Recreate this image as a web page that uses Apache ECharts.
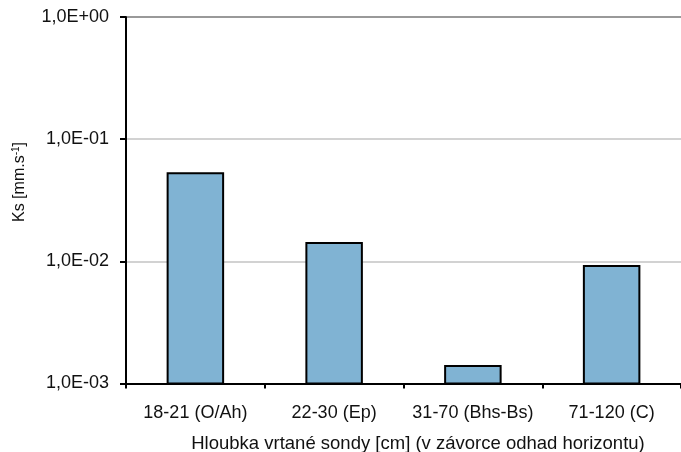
<!DOCTYPE html>
<html>
<head>
<meta charset="utf-8">
<script src="https://cdn.jsdelivr.net/npm/echarts@6/dist/echarts.min.js"></script>
<style>
html,body{margin:0;padding:0;background:#fff;}
#chart{width:681px;height:452px;}
</style>
</head>
<body>
<div id="chart"></div>
<script>
var categories = ['18-21 (O/Ah)', '22-30 (Ep)', '31-70 (Bhs-Bs)', '71-120 (C)'];
var ksValues = [0.0526, 0.0141, 0.00139, 0.00917];
var yMin = 0.001;
var yMax = 1;
var yName = 'Ks [mm.s';
var xName = 'Hloubka vrtané sondy [cm] (v závorce odhad horizontu)';

function fmt(v) {
  var e = Math.round(Math.log10(v));
  var s = e < 0 ? '-' : '+';
  var a = Math.abs(e);
  return '1,0E' + s + (a < 10 ? '0' + a : a);
}

var chart = echarts.init(document.getElementById('chart'));
var font = 'Liberation Sans, Arial, sans-serif';
chart.setOption({
  animation: false,
  backgroundColor: '#fff',
  grid: { left: 126, top: 17, width: 560, height: 366.5, containLabel: false },
  xAxis: {
    type: 'category',
    data: categories,
    axisLine: { lineStyle: { color: '#000', width: 2 } },
    axisTick: { show: true, length: 5, lineStyle: { color: '#000', width: 2 } },
    axisLabel: { interval: 0, color: '#111', fontFamily: font, fontSize: 18, margin: 21 },
    splitLine: { show: false }
  },
  yAxis: {
    type: 'log',
    logBase: 10,
    min: yMin,
    max: yMax,
    axisLine: { show: true, lineStyle: { color: '#000', width: 2 } },
    axisTick: { show: true, length: 6, lineStyle: { color: '#000', width: 2 } },
    axisLabel: { color: '#111', fontFamily: font, fontSize: 18, margin: 17, formatter: fmt },
    splitLine: { show: true, lineStyle: { color: '#d2d2d2', width: 2 } }
  },
  graphic: [
    { type: 'line', shape: { x1: 127, y1: 17, x2: 681, y2: 17 }, style: { stroke: '#999', lineWidth: 2 }, z: 5 },
    { type: 'text', x: 418, y: 444,
      style: { text: xName, font: '18.5px ' + font, fill: '#111', textAlign: 'center', textVerticalAlign: 'middle' } },
    { type: 'text', x: 20, y: 182, rotation: Math.PI / 2,
      style: {
        text: '{a|' + yName + '}{s|-1}{a|]}',
        fontSize: 16, fontFamily: font, fill: '#111',
        textAlign: 'center', textVerticalAlign: 'middle',
        rich: {
          a: { fontFamily: font, fontSize: 16, fill: '#111' },
          s: { fontFamily: font, fontSize: 10, fill: '#111', verticalAlign: 'top', padding: [0, 0, 8, 0] }
        }
      } }
  ],
  series: [{
    type: 'custom',
    data: ksValues.map(function (v, i) { return [i, v]; }),
    encode: { x: 0, y: 1 },
    renderItem: function (params, api) {
      var top = api.coord([api.value(0), api.value(1)]);
      var base = api.coord([api.value(0), yMin]);
      var bw = api.size([1, 1])[0] * 0.4;
      return {
        type: 'rect',
        shape: { x: top[0] - bw / 2, y: top[1], width: bw, height: base[1] - top[1] },
        style: { fill: '#80b3d3', stroke: '#000', lineWidth: 2 }
      };
    }
  }]
});
</script>
</body>
</html>
